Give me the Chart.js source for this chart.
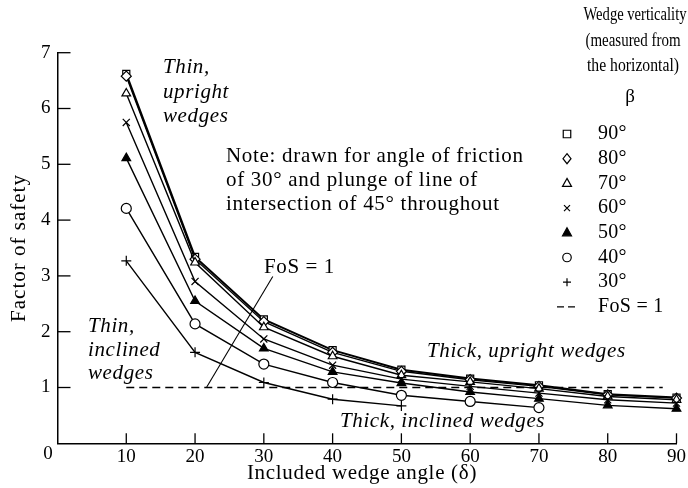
<!DOCTYPE html>
<html><head><meta charset="utf-8">
<script src="https://cdn.jsdelivr.net/npm/chart.js@4/dist/chart.umd.min.js"></script>
<style>html,body{margin:0;padding:0;background:#fff;}#wrap{width:688px;height:488px;position:relative;}</style>
</head><body><div id="wrap"><canvas id="c" width="688" height="488"></canvas></div>
<script>
// Included wedge angle (delta)
const wedgeAngles = [10, 20, 30, 40, 50, 60, 70, 80, 90];
// Factor of safety for each wedge verticality (beta)
const beta90 = [6.62, 3.34, 2.22, 1.67, 1.32, 1.16, 1.04, 0.88, 0.82];
const beta80 = [6.58, 3.30, 2.18, 1.63, 1.29, 1.14, 1.02, 0.87, 0.81];
const beta70 = [6.27, 3.24, 2.08, 1.56, 1.22, 1.10, 0.98, 0.84, 0.78];
const beta60 = [5.75, 2.90, 1.87, 1.40, 1.15, 1.02, 0.90, 0.78, 0.72];
const beta50 = [5.11, 2.55, 1.70, 1.28, 1.08, 0.92, 0.80, 0.68, 0.62];
const beta40 = [4.21, 2.14, 1.42, 1.09, 0.86, 0.75, 0.64];
const beta30 = [3.27, 1.63, 1.09, 0.79, 0.67];
const seriesLabels = ['90°', '80°', '70°', '60°', '50°', '40°', '30°'];
// FoS = 1 reference line
const fosX = [10, 88];
const fosY = [1, 1];
// Leader line from "FoS = 1" label to the reference line (data coords)
const leaderX = [31.3, 21.7];
const leaderY = [2.99, 1.01];
// Ticks
const xTicks = [0, 10, 20, 30, 40, 50, 60, 70, 80, 90];
const yTicks = [0, 1, 2, 3, 4, 5, 6, 7];

const SERIF = "'Liberation Serif', 'DejaVu Serif', serif";
const pts = (xs, ys) => ys.map((y, i) => ({x: xs[i], y: y}));

const styles = [
  {v: beta90, p: 'rect', fill: '#fff', w: 2.0},
  {v: beta80, p: 'rectRot', fill: '#fff', w: 1.4},
  {v: beta70, p: 'triangle', fill: '#fff', w: 1.4},
  {v: beta60, p: 'crossRot', fill: '#fff', w: 1.4},
  {v: beta50, p: 'triangle', fill: '#000', w: 1.4},
  {v: beta40, p: 'circle', fill: '#fff', w: 1.4},
  {v: beta30, p: 'cross', fill: '#fff', w: 1.4}
];

const datasets = styles.map((s, i) => ({
  label: seriesLabels[i],
  data: pts(wedgeAngles, s.v),
  showLine: true,
  borderColor: '#000',
  borderWidth: s.w,
  backgroundColor: s.fill,
  pointStyle: s.p,
  pointRadius: 5,
  pointBorderWidth: 1.2,
  pointBorderColor: '#000',
  pointBackgroundColor: s.fill,
  clip: false,
  order: 7 - i
}));
datasets.push({
  label: 'FoS = 1',
  data: pts(fosX, fosY),
  showLine: true,
  borderColor: '#000',
  borderWidth: 1.3,
  borderDash: [8, 5],
  pointRadius: 0,
  clip: false
});
datasets.push({
  label: 'leader',
  data: pts(leaderX, leaderY),
  showLine: true,
  borderColor: '#000',
  borderWidth: 1.1,
  pointRadius: 0,
  clip: false
});

function drawMarker(ctx, style, fill, x, y, r) {
  ctx.save();
  ctx.lineWidth = 1.2; ctx.strokeStyle = '#000'; ctx.fillStyle = fill;
  ctx.beginPath();
  if (style === 'rect') { ctx.rect(x - r * 0.75, y - r * 0.75, r * 1.5, r * 1.5); ctx.fill(); ctx.stroke(); }
  else if (style === 'rectRot') { ctx.moveTo(x, y - r); ctx.lineTo(x + r * 0.8, y); ctx.lineTo(x, y + r); ctx.lineTo(x - r * 0.8, y); ctx.closePath(); ctx.fill(); ctx.stroke(); }
  else if (style === 'triangle') { ctx.moveTo(x, y - r); ctx.lineTo(x + r * 0.9, y + r * 0.6); ctx.lineTo(x - r * 0.9, y + r * 0.6); ctx.closePath(); ctx.fill(); ctx.stroke(); }
  else if (style === 'crossRot') { const d = r * 0.6; ctx.moveTo(x - d, y - d); ctx.lineTo(x + d, y + d); ctx.moveTo(x + d, y - d); ctx.lineTo(x - d, y + d); ctx.stroke(); }
  else if (style === 'circle') { ctx.arc(x, y, r * 0.85, 0, Math.PI * 2); ctx.fill(); ctx.stroke(); }
  else if (style === 'cross') { ctx.moveTo(x - r * 0.8, y); ctx.lineTo(x + r * 0.8, y); ctx.moveTo(x, y - r * 0.8); ctx.lineTo(x, y + r * 0.8); ctx.stroke(); }
  ctx.restore();
}

function txt(ctx, s, x, y, font, spacing, maxW) {
  ctx.font = font;
  try { ctx.letterSpacing = (spacing || 0) + 'px'; } catch (e) {}
  if (maxW) ctx.fillText(s, x, y, maxW); else ctx.fillText(s, x, y);
  try { ctx.letterSpacing = '0px'; } catch (e) {}
}

const annot = {
  id: 'annot',
  afterDraw(chart) {
    const ctx = chart.ctx, xs = chart.scales.x, ys = chart.scales.y;
    ctx.save();
    // inner tick marks
    ctx.strokeStyle = '#000'; ctx.lineWidth = 1.3;
    yTicks.forEach(v => { if (v === 0) return; const py = ys.getPixelForValue(v);
      ctx.beginPath(); ctx.moveTo(xs.left, py); ctx.lineTo(xs.left + 13, py); ctx.stroke(); });
    xTicks.forEach(v => { if (v === 0) return; const px = xs.getPixelForValue(v);
      ctx.beginPath(); ctx.moveTo(px, ys.bottom); ctx.lineTo(px, ys.bottom - 10); ctx.stroke(); });
    ctx.fillStyle = '#000';
    ctx.textBaseline = 'middle';
    const R = SERIF, I = SERIF;
    // origin label
    ctx.textAlign = 'center';
    txt(ctx, '0', 48, 454, '19px ' + R, 0);
    // axis titles
    txt(ctx, 'Included wedge angle (δ)', 362, 473, '21px ' + R, 0.7);
    ctx.save(); ctx.translate(19, 248); ctx.rotate(-Math.PI / 2);
    txt(ctx, 'Factor of safety', 0, 0, '21px ' + R, 1.0); ctx.restore();
    // italic annotations
    ctx.textAlign = 'left';
    const it = 'italic 21px ' + I;
    txt(ctx, 'Thin,', 163, 67, it, 0.6);
    txt(ctx, 'upright', 163, 92, it, 0.6);
    txt(ctx, 'wedges', 163, 116, it, 0.6);
    txt(ctx, 'Thin,', 88, 326, it, 0.6);
    txt(ctx, 'inclined', 88, 350, it, 0.6);
    txt(ctx, 'wedges', 88, 373, it, 0.6);
    txt(ctx, 'Thick, upright wedges', 427, 351, it, 0.6);
    txt(ctx, 'Thick, inclined wedges', 340, 421, it, 0.6);
    // note
    const rg = '21px ' + R;
    txt(ctx, 'Note: drawn for angle of friction', 226, 156, rg, 0.7);
    txt(ctx, 'of 30° and plunge of line of', 226, 180, rg, 0.7);
    txt(ctx, 'intersection of 45° throughout', 226, 204, rg, 0.7);
    txt(ctx, 'FoS = 1', 264, 267, rg, 0.6);
    // legend
    ctx.textAlign = 'center';
    txt(ctx, 'Wedge verticality', 635, 15, '18px ' + R, 0, 103);
    txt(ctx, '(measured from', 633, 41, '18px ' + R, 0, 95);
    txt(ctx, 'the horizontal)', 633, 66, '18px ' + R, 0, 92);
    txt(ctx, 'β', 630, 97, '19px ' + R, 0);
    ctx.textAlign = 'left';
    styles.forEach((s, i) => {
      const y = 134 + i * 24.7;
      drawMarker(ctx, s.p, s.fill, 567, y, 5);
      txt(ctx, seriesLabels[i], 598, y, '20px ' + R, 0.3);
    });
    const fy = 134 + 7 * 24.7;
    ctx.lineWidth = 1.3; ctx.setLineDash([7, 4]);
    ctx.beginPath(); ctx.moveTo(557, fy); ctx.lineTo(578, fy); ctx.stroke(); ctx.setLineDash([]);
    txt(ctx, 'FoS = 1', 598, fy, '20px ' + R, 0.3);
    ctx.restore();
  }
};

new Chart(document.getElementById('c'), {
  type: 'scatter',
  data: {datasets: datasets},
  options: {
    responsive: false,
    animation: false,
    devicePixelRatio: 1,
    layout: {padding: {top: 52.7, right: 11, left: 0, bottom: 0}},
    plugins: {legend: {display: false}, tooltip: {enabled: false}},
    scales: {
      x: {
        type: 'linear', min: 0, max: 90,
        afterBuildTicks: s => { s.ticks = xTicks.map(v => ({value: v})); },
        afterFit: s => { s.height = 44.7; },
        ticks: {color: '#000', font: {family: SERIF, size: 19}, padding: 2, maxRotation: 0,
          callback: v => v === 0 ? '' : String(v)},
        grid: {display: false, drawTicks: false},
        border: {display: true, color: '#000', width: 1.5}
      },
      y: {
        type: 'linear', min: 0, max: 7,
        afterBuildTicks: s => { s.ticks = yTicks.map(v => ({value: v})); },
        afterFit: s => { s.width = 57.5; },
        ticks: {color: '#000', font: {family: SERIF, size: 19}, padding: 7,
          callback: v => v === 0 ? '' : String(v)},
        grid: {display: false, drawTicks: false},
        border: {display: true, color: '#000', width: 1.5}
      }
    }
  },
  plugins: [annot]
});
</script>
</body></html>
